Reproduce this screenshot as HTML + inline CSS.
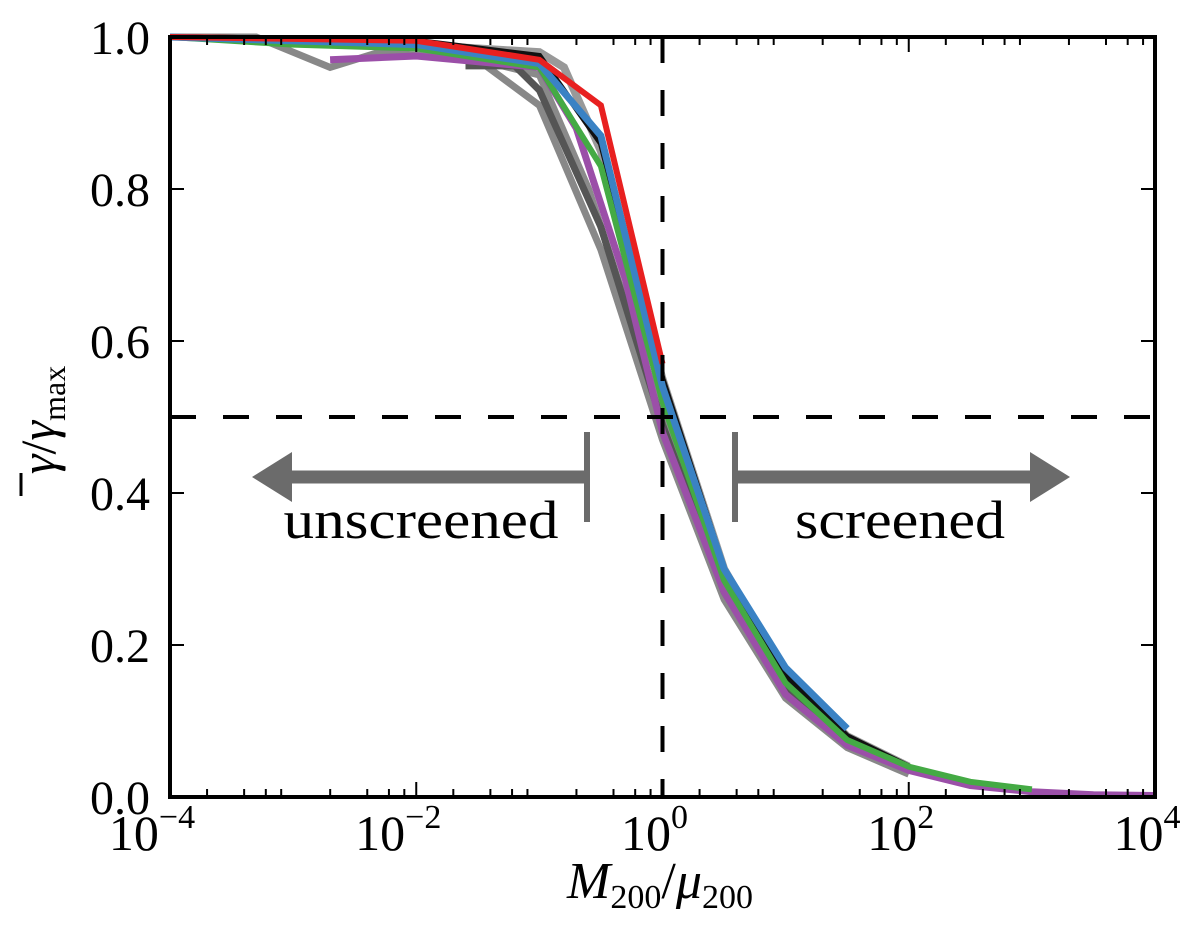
<!DOCTYPE html>
<html><head><meta charset="utf-8"><style>
html,body{margin:0;padding:0;background:#fff;}
svg{display:block;font-family:"Liberation Serif",serif;}
</style></head><body>
<svg id="chart" width="1200" height="943" viewBox="0 0 1200 943" xmlns="http://www.w3.org/2000/svg">
<g id="series"></g>
<g id="overlay"></g>
<g id="axes"></g>
</svg>
<script>
const xTickExps = [-4, -2, 0, 2, 4];
const yTickVals = [0.0, 0.2, 0.4, 0.6, 0.8, 1.0];
const yTickLabels = ["0.0", "0.2", "0.4", "0.6", "0.8", "1.0"];
const grayA_x = [-4, -3.3, -2.7, -2.3, -1.5, -1, -0.5, 0, 0.5, 1, 1.5, 2];
const grayA_y = [1, 1, 0.96, 0.98, 0.97, 0.91, 0.72, 0.47, 0.26, 0.13, 0.065, 0.03];
const grayB_x = [-1.6, -1.2, -1, -0.5, 0, 0.5, 1, 1.5];
const grayB_y = [0.962, 0.962, 0.93, 0.75, 0.49, 0.27, 0.14, 0.07];
const grayC_x = [-2, -1, -0.8, -0.5, 0, 0.5, 1, 1.5, 2];
const grayC_y = [0.99, 0.98, 0.96, 0.85, 0.55, 0.3, 0.16, 0.08, 0.04];
const grayD_x = [-3, -2, -1, -0.6, 0, 0.5, 1, 1.5, 2];
const grayD_y = [0.995, 0.99, 0.95, 0.8, 0.5, 0.28, 0.14, 0.07, 0.035];
const black_x = [-4, -2, -1, -0.5, 0, 0.5, 1, 1.5, 2];
const black_y = [1, 0.995, 0.975, 0.86, 0.55, 0.3, 0.16, 0.08, 0.04];
const purple_x = [-2.7, -2, -1, -0.7, -0.3, 0, 0.5, 1, 1.5, 2, 2.5, 3, 3.5, 4];
const purple_y = [0.97, 0.975, 0.96, 0.88, 0.68, 0.48, 0.27, 0.135, 0.068, 0.035, 0.015, 0.007, 0.003, 0.002];
const green_x = [-4, -3, -2, -1, -0.5, 0, 0.5, 1, 1.5, 2, 2.5, 3];
const green_y = [1, 0.99, 0.985, 0.96, 0.83, 0.52, 0.285, 0.15, 0.075, 0.04, 0.02, 0.01];
const blue_x = [-4, -2, -1, -0.5, 0, 0.5, 1, 1.5];
const blue_y = [1, 0.99, 0.965, 0.87, 0.54, 0.3, 0.17, 0.09];
const red_x = [-4, -2, -1, -0.5, 0];
const red_y = [1, 0.995, 0.97, 0.91, 0.57];

const L=170, R=1155, T=37, B=797;
const xs = e => L + (e + 4) / 8 * (R - L);
const ys = v => B - v * (B - T);
const NS = "http://www.w3.org/2000/svg";
function mk(tag, attrs, parent){const el=document.createElementNS(NS,tag);for(const k in attrs)el.setAttribute(k,attrs[k]);parent.appendChild(el);return el;}
const gS=document.getElementById('series'), gO=document.getElementById('overlay'), gA=document.getElementById('axes');

function line(xa, ya, color, w, name){
  const d = xa.map((e,i)=>(i?'L':'M')+xs(e).toFixed(1)+','+ys(ya[i]).toFixed(1)).join(' ');
  const p = mk('path',{d:d,fill:'none',stroke:color,'stroke-width':w,'stroke-linejoin':'miter'},gS);
  
  
}
line(grayA_x, grayA_y, '#888', 7, 'series-gray-a');
line(grayD_x, grayD_y, '#8a8a8a', 7, 'series-gray-d');
line(grayB_x, grayB_y, '#555', 7, 'series-gray-b');
line(grayC_x, grayC_y, '#999', 8, 'series-gray-c');
line(black_x, black_y, '#111', 6, 'series-black');
line(purple_x, purple_y, '#9b4fa8', 7, 'series-purple');
line(green_x, green_y, '#44aa44', 6, 'series-green');
line(blue_x, blue_y, '#3a82c4', 7, 'series-blue');
line(red_x, red_y, '#e82020', 6, 'series-red');

let h = mk('line',{x1:L,x2:R,y1:ys(0.5),y2:ys(0.5),stroke:'#000','stroke-width':4,'stroke-dasharray':'26,27'},gO);


let v = mk('line',{x1:xs(0),x2:xs(0),y1:T,y2:B,stroke:'#000','stroke-width':4,'stroke-dasharray':'26,27'},gO);



const ac='#6b6b6b';
let a1=mk('g',{},gO);


mk('line',{x1:587,x2:587,y1:432,y2:522,stroke:ac,'stroke-width':6},a1);
mk('line',{x1:587,x2:285,y1:477,y2:477,stroke:ac,'stroke-width':13},a1);
mk('polygon',{points:'252,477 292,452 292,502',fill:ac},a1);
let a2=mk('g',{},gO);


mk('line',{x1:735,x2:735,y1:432,y2:522,stroke:ac,'stroke-width':6},a2);
mk('line',{x1:735,x2:1035,y1:477,y2:477,stroke:ac,'stroke-width':13},a2);
mk('polygon',{points:'1070,477 1030,452 1030,502',fill:ac},a2);
let t1=mk('text',{x:421,y:538,'font-size':54,'text-anchor':'middle',fill:'#000',textLength:275,lengthAdjust:'spacingAndGlyphs'},gO);t1.textContent='unscreened';


let t2=mk('text',{x:900,y:538,'font-size':54,'text-anchor':'middle',fill:'#000',textLength:210,lengthAdjust:'spacingAndGlyphs'},gO);t2.textContent='screened';



let fr=mk('rect',{x:L,y:T,width:R-L,height:B-T,fill:'none',stroke:'#000','stroke-width':4},gA);



for(let e=-4;e<4;e++){
  for(const m of [2,4,6,8]){
    const x=xs(e+Math.log10(m));
    mk('line',{x1:x,x2:x,y1:B,y2:B-8,stroke:'#000','stroke-width':2},gA);
    mk('line',{x1:x,x2:x,y1:T,y2:T+8,stroke:'#000','stroke-width':2},gA);
  }
}
xTickExps.forEach(e=>{
  const x=xs(e);
  mk('line',{x1:x,x2:x,y1:B,y2:B-15,stroke:'#000','stroke-width':2},gA);
  mk('line',{x1:x,x2:x,y1:T,y2:T+15,stroke:'#000','stroke-width':2},gA);
  const t=mk('text',{x:x+(e<0?-18:-8),y:850,'font-size':50,'text-anchor':'middle'},gA);
  
  
  t.textContent='10';
  const s=mk('tspan',{dy:-22,'font-size':34},t);
  s.textContent=(e<0?'\u2212':'')+Math.abs(e);
});
yTickVals.forEach((val,i)=>{
  const y=ys(val);
  mk('line',{x1:L,x2:L+14,y1:y,y2:y,stroke:'#000','stroke-width':2},gA);
  mk('line',{x1:R,x2:R-14,y1:y,y2:y,stroke:'#000','stroke-width':2},gA);
  const t=mk('text',{x:150,y:y+17,'font-size':48,'text-anchor':'end'},gA);
  
  
  t.textContent=yTickLabels[i];
});
let xt=mk('text',{x:660,y:898,'font-size':52,'text-anchor':'middle','font-style':'italic'},gA);


xt.innerHTML='M<tspan font-size="34" dy="10" font-style="normal">200</tspan><tspan dy="-10" font-style="normal">/</tspan>μ<tspan font-size="34" dy="10" font-style="normal">200</tspan>';
let yt=mk('text',{x:0,y:0,'font-size':50,'text-anchor':'middle','font-style':'italic',transform:'translate(55,420) rotate(-90)'},gA);


yt.innerHTML='γ<tspan font-style="normal">/</tspan>γ<tspan font-size="32" dy="10" font-style="normal">max</tspan>';
let yb=mk('line',{x1:21,x2:21,y1:473,y2:496,stroke:'#000','stroke-width':3},gA);


</script>
</body></html>
